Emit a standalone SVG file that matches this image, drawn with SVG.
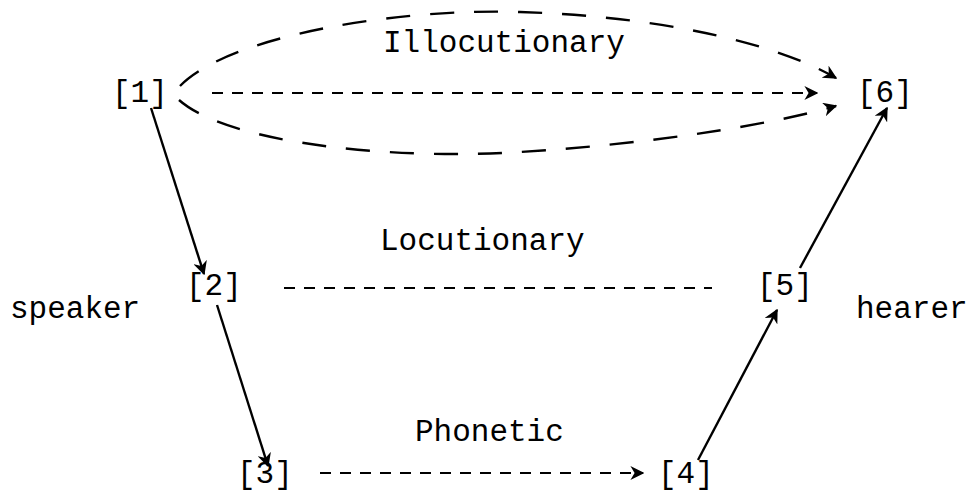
<svg xmlns="http://www.w3.org/2000/svg" width="973" height="493" viewBox="0 0 973 493">
<style>
text{font-family:"Liberation Mono","Courier New",monospace;font-size:31px;fill:#000}
.s{fill:none;stroke:#000;stroke-width:2.4}
.d{fill:none;stroke:#000;stroke-width:2.2;stroke-dasharray:11 9}
.c{fill:none;stroke:#000;stroke-width:2.4;stroke-dasharray:24 20}
</style>
<defs>
<marker id="ah" viewBox="0 0 10 10" refX="9" refY="5" markerWidth="14" markerHeight="14" markerUnits="userSpaceOnUse" orient="auto">
<path d="M0,0 L10,5 L0,10 L3,5 Z" fill="#000"/>
</marker>
</defs>
<rect width="973" height="493" fill="#fff"/>
<g id="n1"><text x="112" y="102">[1]</text></g>
<g id="n6"><text x="857" y="102">[6]</text></g>
<g id="n2"><text x="186" y="295">[2]</text></g>
<g id="n5"><text x="757" y="295">[5]</text></g>
<g id="n3"><text x="237" y="483">[3]</text></g>
<g id="n4"><text x="658" y="483">[4]</text></g>
<g id="labels">
<text x="383" y="52">Illocutionary</text>
<text x="380" y="250">Locutionary</text>
<text x="415" y="441">Phonetic</text>
<text x="10" y="318">speaker</text>
<text x="856" y="318">hearer</text>
</g>
<g id="connectors">
<path class="c" d="M180,86 C230,35 400,8 520,12 C650,16 770,40 836,78" marker-end="url(#ah)"/>
<path class="c" d="M179,100 C230,145 400,160 520,152 C650,144 770,125 836,106" marker-end="url(#ah)"/>
<path class="d" d="M212,93 L817,93" marker-end="url(#ah)"/>
<path class="d" d="M284,288 L712,288"/>
<path class="d" d="M320,473 L643,473" marker-end="url(#ah)"/>
<path class="s" d="M151,108 L204,274" marker-end="url(#ah)"/>
<path class="s" d="M217,305 L268,466" marker-end="url(#ah)"/>
<path class="s" d="M698,460 L777,310" marker-end="url(#ah)"/>
<path class="s" d="M800,268 L887,108" marker-end="url(#ah)"/>
</g>
</svg>
